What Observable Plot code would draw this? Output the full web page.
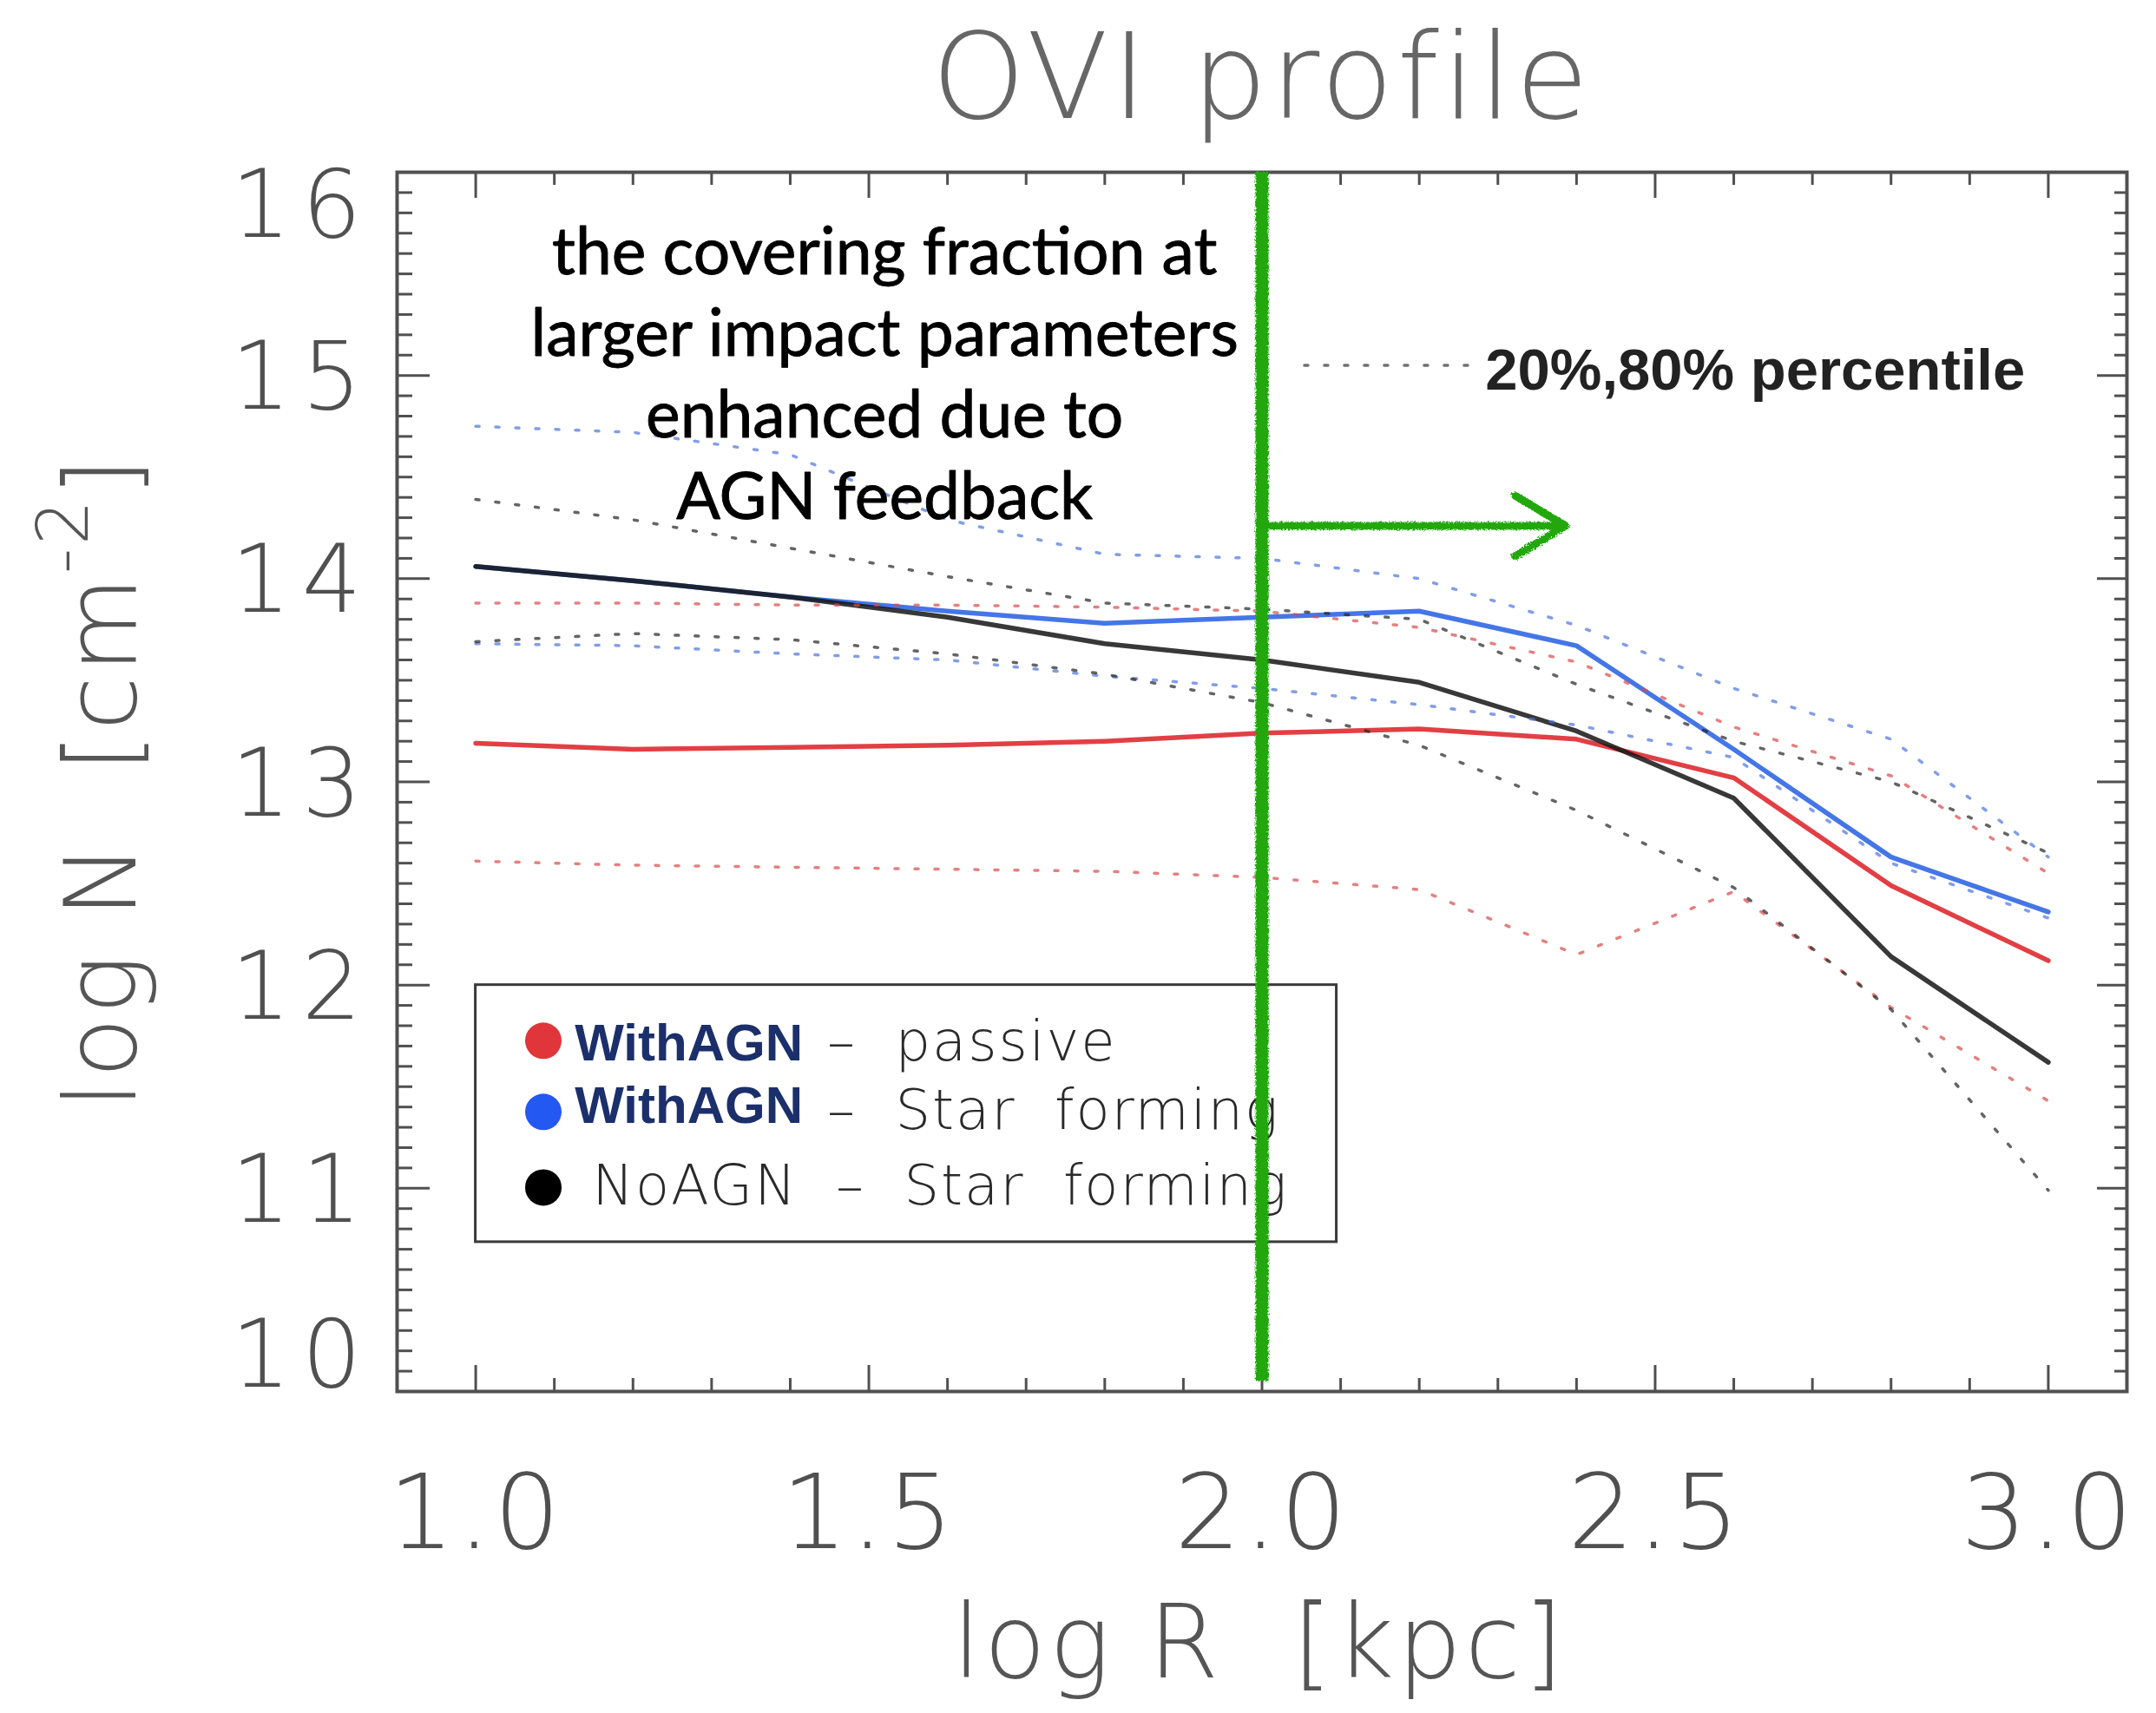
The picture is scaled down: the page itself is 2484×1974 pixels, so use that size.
<!DOCTYPE html>
<html>
<head>
<meta charset="utf-8">
<script src="https://cdn.jsdelivr.net/npm/d3@7"></script>
<script src="https://cdn.jsdelivr.net/npm/@observablehq/plot@0.6"></script>
<style>
  html, body { margin: 0; padding: 0; background: #fff; }
  #chart svg { display: block; background: #fff; }
  /* IDL-like thin lettering is a little wider spaced */
  g[font-weight="200"] text { letter-spacing: 0.03em; }
  g[aria-label="y-axis tick label"] text { letter-spacing: 0.12em; }
</style>
</head>
<body>
<div id="chart"></div>
<script>
// ---- impact parameter grid, log R [kpc] ----
const logR = [1.0, 1.2, 1.4, 1.6, 1.8, 2.0, 2.2, 2.4, 2.6, 2.8, 3.0];

// ---- median OVI column density, log N [cm^-2] ----
const passiveAGN    = [13.19, 13.16, 13.17, 13.18, 13.20, 13.24, 13.26, 13.21, 13.02, 12.49, 12.12];
const starFormAGN   = [14.06, 13.99, 13.91, 13.84, 13.78, 13.81, 13.84, 13.67, 13.16, 12.63, 12.36];
const starFormNoAGN = [14.06, 13.99, 13.91, 13.81, 13.68, 13.60, 13.49, 13.25, 12.92, 12.14, 11.62];

// ---- 20% / 80% percentiles ----
const passiveAGN20    = [12.61, 12.59, 12.58, 12.57, 12.56, 12.53, 12.47, 12.15, 12.46, 11.89, 11.43];
const passiveAGN80    = [13.88, 13.88, 13.87, 13.87, 13.86, 13.84, 13.76, 13.59, 13.27, 13.03, 12.55];
const starFormAGN20   = [13.68, 13.67, 13.63, 13.60, 13.52, 13.46, 13.38, 13.28, 13.12, 12.60, 12.33];
const starFormAGN80   = [14.75, 14.72, 14.61, 14.29, 14.12, 14.10, 14.00, 13.77, 13.46, 13.21, 12.63];
const starFormNoAGN20 = [13.69, 13.73, 13.70, 13.63, 13.53, 13.39, 13.18, 12.86, 12.48, 11.88, 10.99];
const starFormNoAGN80 = [14.39, 14.29, 14.15, 14.01, 13.88, 13.85, 13.80, 13.48, 13.20, 13.00, 12.65];

// ---- axis ticks and texts ----
const xTicks = [1.0, 1.5, 2.0, 2.5, 3.0];
const yTicks = [10, 11, 12, 13, 14, 15, 16];
const xMinorTicks = [0.9, 1.1, 1.2, 1.3, 1.4, 1.6, 1.7, 1.8, 1.9, 2.1, 2.2, 2.3, 2.4, 2.6, 2.7, 2.8, 2.9, 3.1];
const yMinorTicks = d3.range(100, 161).filter(v => v % 10 !== 0).map(v => v / 10);

const chartTitle = "OVI profile";
const xTitle = "log R  [kpc]";
const yTitle = "log N  [cm-2]";

const legendSim = ["WithAGN", "WithAGN", "NoAGN"];
const legendType = ["\u2013  passive", "\u2013  Star  forming", "\u2013  Star  forming"];
const percentileKey = "20%,80% percentile";
const noteLines = ["the covering fraction at", "larger impact parameters", "enhanced due to", "AGN feedback"];

// ---- styling ----
const RED = "#e0353a", BLUE = "#3b6fe6", BLACK = "#151515";
const GREEN = "#22a80f";
const AXIS = "#505050";
const idl = {fontFamily: "DejaVu Sans", fontWeight: 200};

// ---- layout ----
const W = 2484, H = 1974;
const M = {left: 457, right: 34, top: 198, bottom: 371};
const frameW = W - M.left - M.right;
const frameH = H - M.top - M.bottom;

// long-format tables for the lines
const toRows = (vals, key) => vals.map((v, i) => ({x: logR[i], y: v, key}));
const medians = [
  ...toRows(passiveAGN, "passive"),
  ...toRows(starFormAGN, "sfAGN"),
  ...toRows(starFormNoAGN, "sfNoAGN")
];
const percentiles = [
  ...toRows(passiveAGN20, "passive-20"), ...toRows(passiveAGN80, "passive-80"),
  ...toRows(starFormAGN20, "sfAGN-20"), ...toRows(starFormAGN80, "sfAGN-80"),
  ...toRows(starFormNoAGN20, "sfNoAGN-20"), ...toRows(starFormNoAGN80, "sfNoAGN-80")
];
const lineColor = {passive: RED, sfAGN: BLUE, sfNoAGN: BLACK};
const dotColor = {passive: "#d84a4a", sfAGN: "#4d74dd", sfNoAGN: "#222"};
const baseKey = k => k.split("-")[0];

// legend rows (data coordinates of the in-frame legend box)
const legendColors = [RED, "#2458f2", "#000"];
const legendDotY = [11.726, 11.376, 11.004];
const legendSimY = [11.628, 11.32, 10.919];
const legendTypeY = [11.628, 11.291, 10.919];
const legendSimX = [1.126, 1.126, 1.148];
const legendTypeX = [1.447, 1.447, 1.458];
const legendIdx = [0, 1, 2];

const tickLabel = {tickSize: 0, fill: AXIS, label: null, tickFormat: d => String(d), ...idl};

const chart = Plot.plot({
  width: W,
  height: H,
  marginLeft: M.left,
  marginRight: M.right,
  marginTop: M.top,
  marginBottom: M.bottom,
  x: {domain: [0.9, 3.1]},
  y: {domain: [10, 16]},
  marks: [
    // tick labels
    Plot.axisX(xTicks, {anchor: "bottom", tickSize: 0, tickPadding: 95, tickFormat: d => d.toFixed(1),
      fontSize: 120, fill: AXIS, label: null, ...idl}),
    Plot.axisY(yTicks.filter(v => v > 10 && v < 16), {anchor: "left", tickPadding: 28, dy: 4, fontSize: 108, ...tickLabel}),
    Plot.axisY([16], {anchor: "left", tickPadding: 28, dy: 40, fontSize: 108, ...tickLabel}),
    Plot.axisY([10], {anchor: "left", tickPadding: 28, dy: -40, fontSize: 108, ...tickLabel}),

    // inward ticks on all four sides
    Plot.ruleX(xTicks, {insetTop: frameH - 30, stroke: AXIS, strokeWidth: 3}),
    Plot.ruleX(xTicks, {insetBottom: frameH - 30, stroke: AXIS, strokeWidth: 3}),
    Plot.ruleX(xMinorTicks, {insetTop: frameH - 15, stroke: AXIS, strokeWidth: 3}),
    Plot.ruleX(xMinorTicks, {insetBottom: frameH - 15, stroke: AXIS, strokeWidth: 3}),
    Plot.ruleY(yTicks, {insetRight: frameW - 38, stroke: AXIS, strokeWidth: 3}),
    Plot.ruleY(yTicks, {insetLeft: frameW - 34, stroke: AXIS, strokeWidth: 3}),
    Plot.ruleY(yMinorTicks, {insetRight: frameW - 18, stroke: AXIS, strokeWidth: 3}),
    Plot.ruleY(yMinorTicks, {insetLeft: frameW - 14, stroke: AXIS, strokeWidth: 3}),
    Plot.frame({stroke: AXIS, strokeWidth: 4}),

    // titles
    Plot.text([chartTitle], {frameAnchor: "top", dy: -63, lineAnchor: "bottom", fontSize: 137, fill: "#666", ...idl}),
    Plot.text([xTitle], {frameAnchor: "bottom", dx: -3, dy: 329, lineAnchor: "bottom", fontSize: 117, fill: "#555", ...idl}),
    Plot.text([yTitle], {frameAnchor: "left", y: 13.0, dx: -302, rotate: -90, textAnchor: "middle",
      lineAnchor: "bottom", fontSize: 114, fill: "#555", ...idl}),

    // median profiles
    Plot.line(medians, {x: "x", y: "y", z: "key", stroke: d => lineColor[d.key], strokeWidth: 5.5,
      strokeOpacity: d => d.key === "sfNoAGN" ? 0.85 : 0.95}),

    // percentile envelopes (dotted)
    Plot.line(percentiles, {x: "x", y: "y", z: "key", stroke: d => dotColor[baseKey(d.key)],
      strokeWidth: 3.5, strokeDasharray: "4,19", strokeOpacity: 0.7}),

    // percentile key
    Plot.line([{x: 2.054, y: 15.05}, {x: 2.277, y: 15.05}], {x: "x", y: "y", stroke: "#333",
      strokeWidth: 3.5, strokeDasharray: "4,19", strokeOpacity: 0.7}),
    Plot.text([percentileKey], {x: 2.284, y: 14.93, textAnchor: "start", lineAnchor: "bottom",
      fontFamily: "Liberation Sans", fontWeight: "bold", fontSize: 67, fill: "#222"}),

    // legend box
    Plot.rect([0], {x1: 1.0, x2: 2.095, y1: 10.735, y2: 12.0, fill: "none", stroke: "#3a3a3a", strokeWidth: 3}),
    Plot.dot(legendIdx, {x: 1.086, y: i => legendDotY[i], r: 21, fill: i => legendColors[i], stroke: "none"}),
    Plot.text(legendIdx.filter(i => i < 2), {x: i => legendSimX[i], y: i => legendSimY[i], text: i => legendSim[i],
      textAnchor: "start", lineAnchor: "bottom", fontFamily: "Liberation Sans", fontWeight: "bold",
      fontSize: 60, fill: "#1b2f6b"}),
    Plot.text([2], {x: i => legendSimX[i], y: i => legendSimY[i], text: i => legendSim[i],
      textAnchor: "start", lineAnchor: "bottom", fontSize: 64, fill: "#2a2a2a", ...idl}),
    Plot.text(legendIdx, {x: i => legendTypeX[i], y: i => legendTypeY[i], text: i => legendType[i],
      textAnchor: "start", lineAnchor: "bottom", fontSize: 64, fill: "#2a2a2a", ...idl}),

    // annotation
    Plot.text([noteLines.join("\n")], {x: 1.52, y: 14.295, textAnchor: "middle", lineAnchor: "bottom",
      lineHeight: 94 / 75, fontFamily: "Lato", fontSize: 75, fill: "#000", stroke: "#000", strokeWidth: 0.9}),
    Plot.ruleX([2.0], {y1: 10.05, y2: 16.0, stroke: GREEN, strokeWidth: 15}),
    Plot.arrow([0], {x1: 2.0, y1: 14.26, x2: 2.386, y2: 14.26, stroke: GREEN, strokeWidth: 9,
      headLength: 11.3, headAngle: 62, strokeLinecap: "round", strokeLinejoin: "round"})
  ]
});

document.getElementById("chart").appendChild(chart);

// superscript exponent in the y title
const svg = d3.select(chart);
svg.selectAll("text").filter(function () { return this.textContent === yTitle; }).each(function () {
  const t = d3.select(this);
  t.text(null);
  t.append("tspan").text("log N  [cm");
  t.append("tspan").text("-2").attr("font-size", 82).attr("dy", -55);
  t.append("tspan").text("]").attr("dy", 55);
});

// crayon texture for the hand-drawn green marker (filter region in user space,
// since a straight rule has an empty bounding box)
const defs = svg.insert("defs", ":first-child");
const flt = defs.append("filter").attr("id", "crayon").attr("filterUnits", "userSpaceOnUse")
  .attr("x", 0).attr("y", 0).attr("width", W).attr("height", H);
flt.append("feTurbulence").attr("type", "fractalNoise").attr("baseFrequency", 0.5)
  .attr("numOctaves", 2).attr("seed", 3).attr("result", "noise");
flt.append("feDisplacementMap").attr("in", "SourceGraphic").attr("in2", "noise").attr("scale", 5);
svg.selectAll(`g[stroke="${GREEN}"]`).attr("filter", "url(#crayon)");
</script>
</body>
</html>
